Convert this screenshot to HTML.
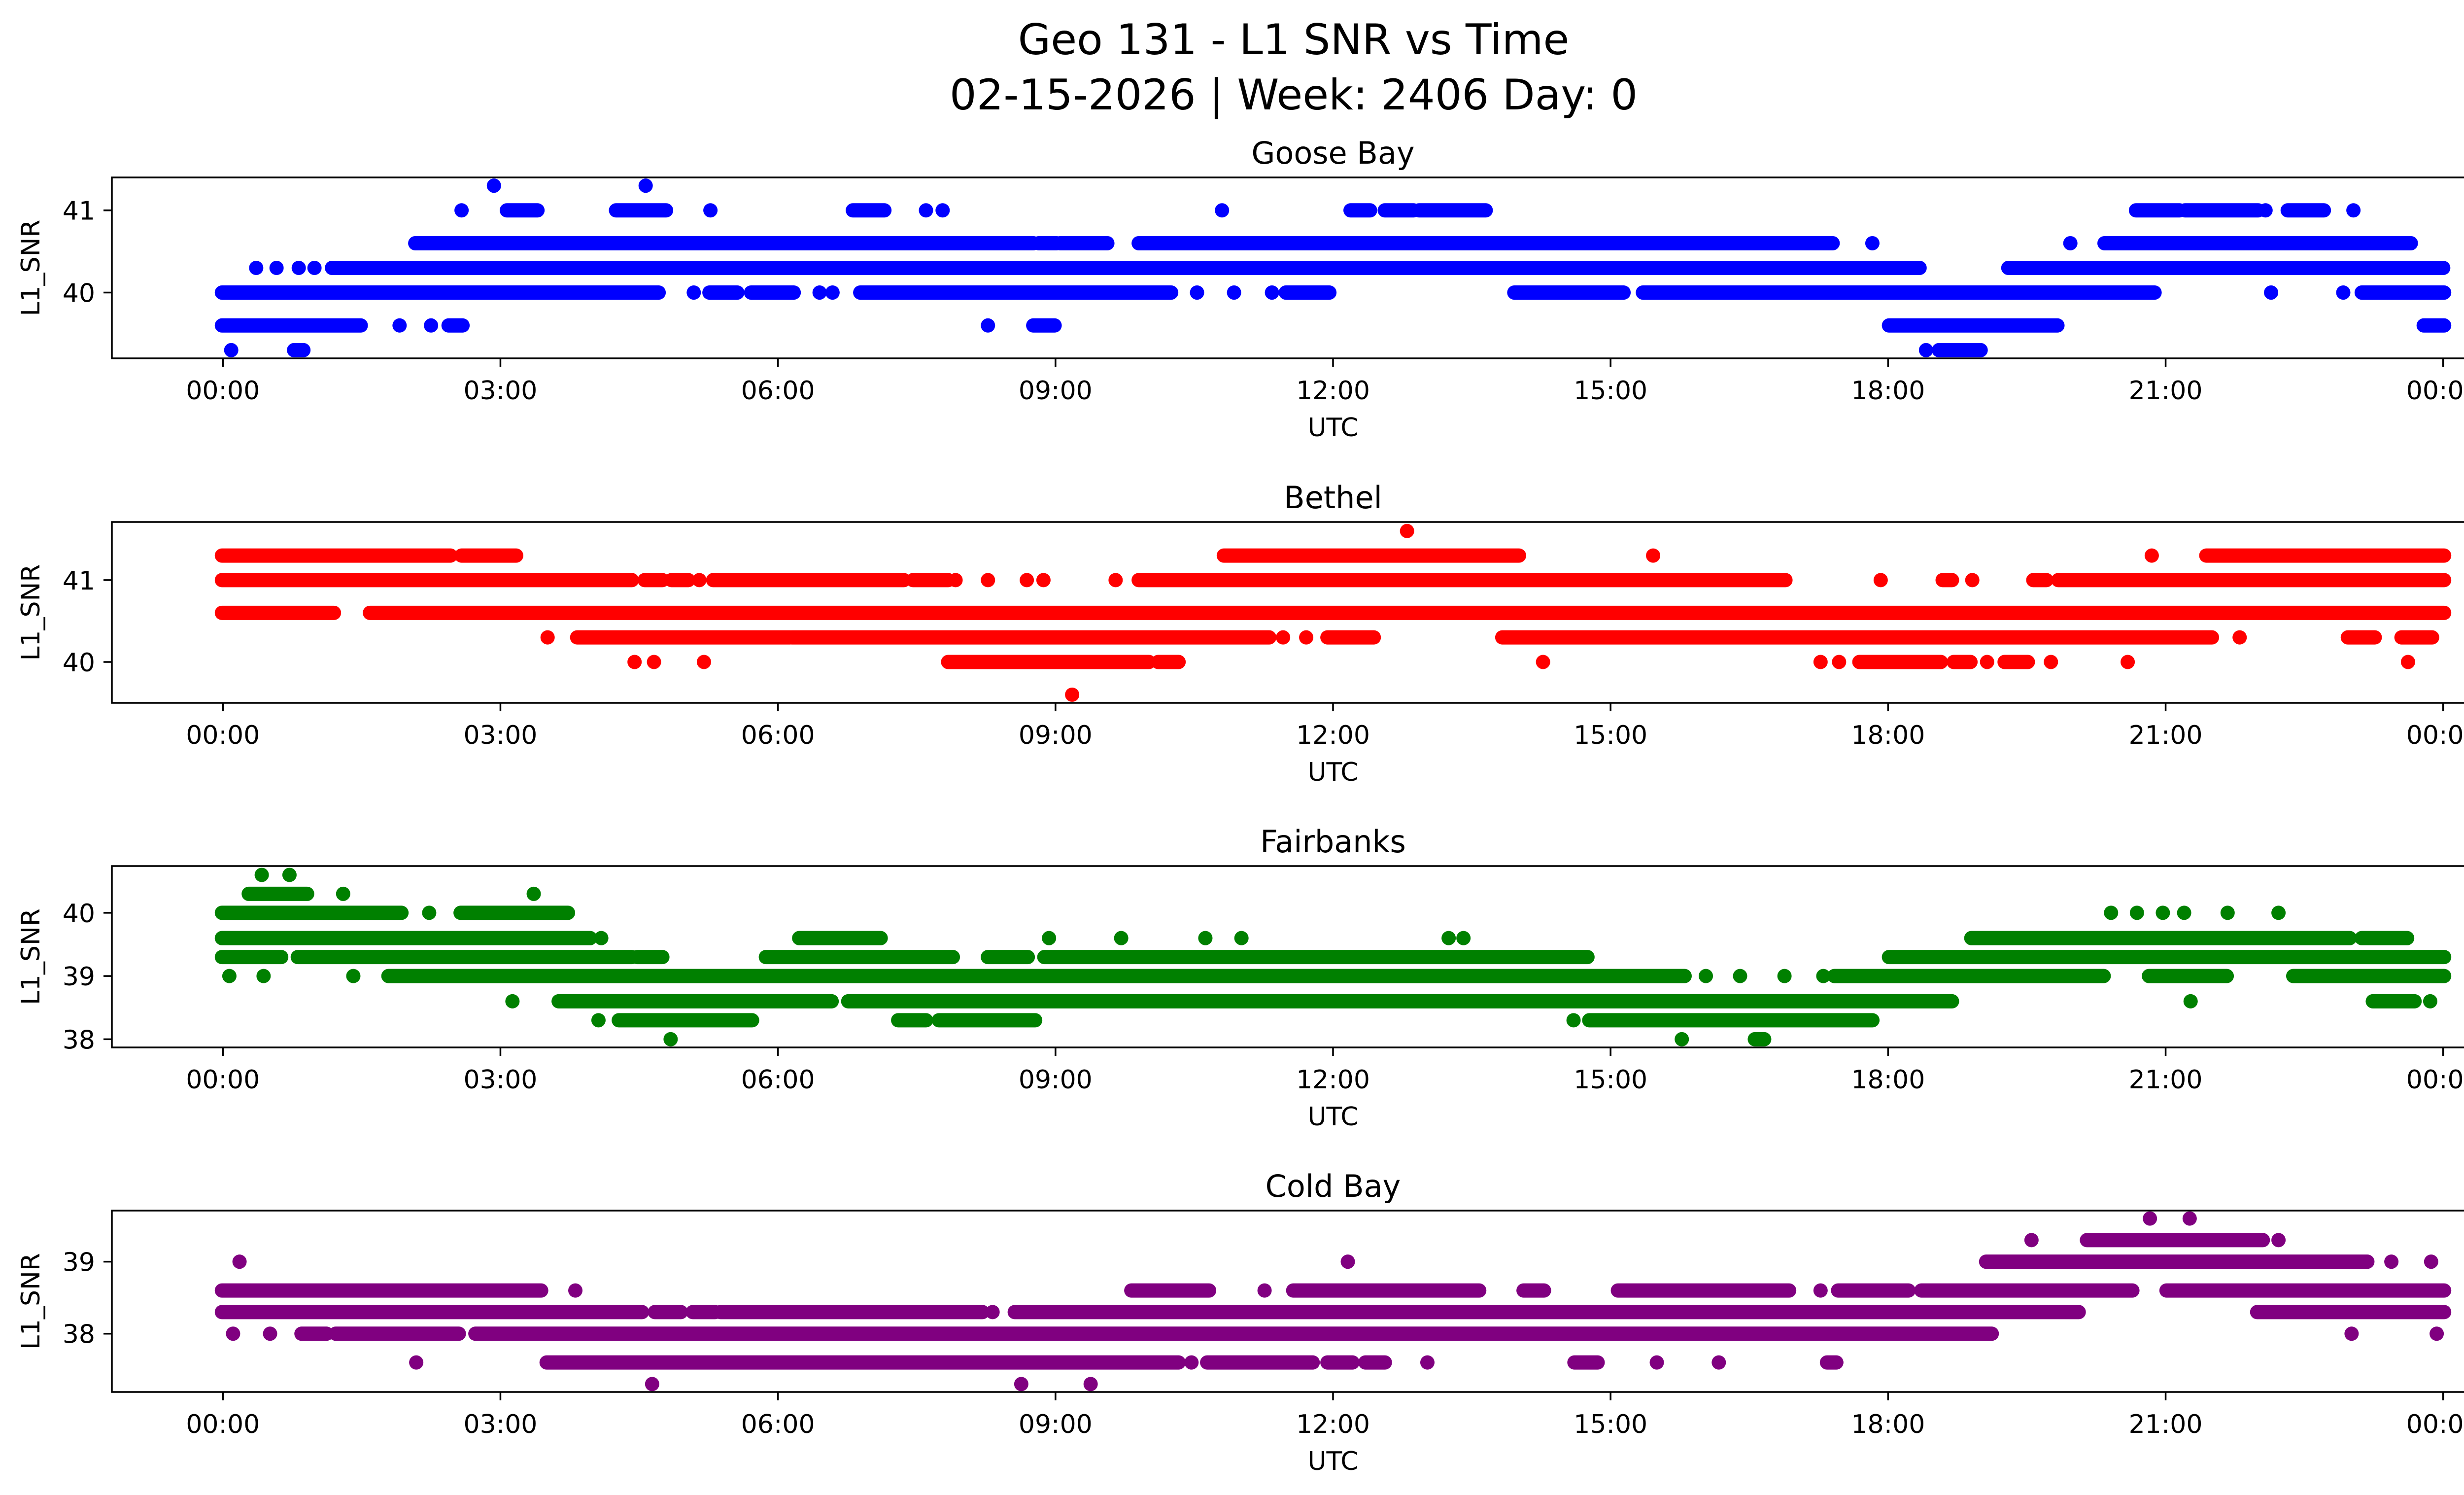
<!DOCTYPE html>
<html><head><meta charset="utf-8"><title>Geo 131 - L1 SNR vs Time</title>
<style>
html,body{margin:0;padding:0;background:#fff;overflow:hidden;}
svg{display:block;font-family:"DejaVu Sans","Liberation Sans",sans-serif;}
</style></head>
<body>
<svg id="chart" width="5225" height="3033" viewBox="0 0 5225 3033" xmlns="http://www.w3.org/2000/svg">
<rect width="5225" height="3033" fill="#fff"/>
<text x="2625" y="110" font-size="86" text-anchor="middle" fill="#000">Geo 131 - L1 SNR vs Time</text>
<text x="2625" y="222" font-size="86" text-anchor="middle" fill="#000">02-15-2026 | Week: 2406 Day: 0</text>
</svg>
<script>
// ---- data: [snr level, start hour, end hour] ----
const xTickHours = [0,3,6,9,12,15,18,21,24];
const xTickLabels = ["00:00","03:00","06:00","09:00","12:00","15:00","18:00","21:00","00:00"];
const stationNames = ["Goose Bay","Bethel","Fairbanks","Cold Bay"];
const stationColors = ["#0000ff","#ff0000","#008000","#800080"];
const gooseTicks = [40,41];
const bethelTicks = [40,41];
const fairbanksTicks = [38,39,40];
const coldbayTicks = [38,39];
const gooseYlim = [39.2,41.4];
const bethelYlim = [39.5,41.71];
const fairbanksYlim = [37.87,40.74];
const coldbayYlim = [37.19,39.71];
const gooseSegs = [
[41.3,2.93,2.93],[41.3,4.57,4.57],
[41,2.58,2.58],[41,3.08,3.39],[41,4.26,4.78],[41,5.27,5.27],[41,6.82,7.14],[41,7.6,7.6],[41,7.78,7.78],[41,10.8,10.8],[41,12.2,12.39],[41,12.57,12.86],[41,12.94,13.64],[41,20.69,21.14],[41,21.22,21.99],[41,22.08,22.08],[41,22.33,22.7],[41,23.03,23.03],
[40.6,2.09,8.57],[40.6,8.6,8.75],[40.6,8.83,9.0],[40.6,9.06,9.55],[40.6,9.91,17.39],[40.6,17.83,17.83],[40.6,19.97,19.97],[40.6,20.35,23.64],
[40.3,0.36,0.36],[40.3,0.58,0.58],[40.3,0.82,0.82],[40.3,0.99,0.99],[40.3,1.19,18.33],[40.3,19.31,23.99],
[40,0,4.7],[40,5.09,5.09],[40,5.27,5.55],[40,5.72,6.16],[40,6.45,6.45],[40,6.59,6.59],[40,6.9,10.24],[40,10.53,10.53],[40,10.93,10.93],[40,11.34,11.34],[40,11.5,11.95],[40,13.97,15.13],[40,15.36,20.87],[40,22.14,22.14],[40,22.92,22.92],[40,23.13,24],
[39.6,0,1.48],[39.6,1.91,1.91],[39.6,2.25,2.25],[39.6,2.45,2.58],[39.6,8.27,8.27],[39.6,8.77,8.98],[39.6,18.02,19.82],[39.6,23.8,24],
[39.3,0.09,0.09],[39.3,0.78,0.86],[39.3,18.41,18.41],[39.3,18.56,18.99]
];
const bethelSegs = [
[41.6,12.8,12.8],
[41.3,0,2.45],[41.3,2.59,3.16],[41.3,10.83,14.0],[41.3,15.46,15.46],[41.3,20.85,20.85],[41.3,21.45,24],
[41,0,4.41],[41,4.57,4.74],[41,4.86,5.02],[41,5.15,5.15],[41,5.31,7.35],[41,7.47,7.83],[41,7.92,7.92],[41,8.27,8.27],[41,8.69,8.69],[41,8.87,8.87],[41,9.65,9.65],[41,9.91,16.88],[41,17.92,17.92],[41,18.6,18.68],[41,18.91,18.91],[41,19.58,19.7],[41,19.85,24],
[40.6,0,1.19],[40.6,1.6,24],
[40.3,3.51,3.51],[40.3,3.84,6.12],[40.3,6.16,11.3],[40.3,11.46,11.46],[40.3,11.71,11.71],[40.3,11.95,12.43],[40.3,13.84,21.49],[40.3,21.8,21.8],[40.3,22.98,23.25],[40.3,23.56,23.87],
[40,4.45,4.45],[40,4.66,4.66],[40,5.2,5.2],[40,7.85,10.0],[40,10.12,10.32],[40,14.27,14.27],[40,17.27,17.27],[40,17.47,17.47],[40,17.7,18.56],[40,18.72,18.88],[40,19.07,19.07],[40,19.27,19.5],[40,19.76,19.76],[40,20.59,20.59],[40,23.62,23.62],
[39.6,9.18,9.18]
];
const fairbanksSegs = [
[40.6,0.42,0.42],[40.6,0.72,0.72],
[40.3,0.29,0.9],[40.3,1.3,1.3],[40.3,3.36,3.36],
[40,0,1.92],[40,2.23,2.23],[40,2.58,3.72],[40,20.41,20.41],[40,20.69,20.69],[40,20.97,20.97],[40,21.2,21.2],[40,21.67,21.67],[40,22.22,22.22],
[39.6,0,3.96],[39.6,4.09,4.09],[39.6,6.24,7.1],[39.6,8.93,8.93],[39.6,9.71,9.71],[39.6,10.62,10.62],[39.6,11.01,11.01],[39.6,13.25,13.25],[39.6,13.41,13.41],[39.6,18.91,22.98],[39.6,23.13,23.6],
[39.3,0,0.62],[39.3,0.82,4.41],[39.3,4.49,4.74],[39.3,5.88,7.88],[39.3,8.28,8.69],[39.3,8.89,14.74],[39.3,18.02,24],
[39,0.07,0.07],[39,0.44,0.44],[39,1.41,1.41],[39,1.8,15.79],[39,16.03,16.03],[39,16.4,16.4],[39,16.88,16.88],[39,17.3,17.3],[39,17.43,20.32],[39,20.83,21.65],[39,22.39,24],
[38.6,3.13,3.13],[38.6,3.64,6.57],[38.6,6.77,18.68],[38.6,21.27,21.27],[38.6,23.25,23.68],[38.6,23.86,23.86],
[38.3,4.06,4.06],[38.3,4.29,5.71],[38.3,7.31,7.59],[38.3,7.75,8.77],[38.3,14.6,14.6],[38.3,14.78,17.82],
[38,4.84,4.84],[38,15.77,15.77],[38,16.57,16.65]
];
const coldbaySegs = [
[39.6,20.83,20.83],[39.6,21.26,21.26],
[39.3,19.55,19.55],[39.3,20.16,22.04],[39.3,22.22,22.22],
[39,0.18,0.18],[39,12.16,12.16],[39,19.07,23.17],[39,23.44,23.44],[39,23.87,23.87],
[38.6,0,3.43],[38.6,3.81,3.81],[38.6,9.83,10.65],[38.6,11.26,11.26],[38.6,11.58,13.57],[38.6,14.07,14.27],[38.6,15.09,16.92],[38.6,17.27,17.27],[38.6,17.47,18.21],[38.6,18.37,20.63],[38.6,21.02,24],
[38.3,0,4.52],[38.3,4.68,4.94],[38.3,5.09,5.31],[38.3,5.39,8.2],[38.3,8.32,8.32],[38.3,8.57,20.05],[38.3,22.0,24],
[38,0.11,0.11],[38,0.51,0.51],[38,0.86,1.11],[38,1.23,2.54],[38,2.74,19.11],[38,23.01,23.01],[38,23.93,23.93],
[37.6,2.09,2.09],[37.6,3.51,10.32],[37.6,10.47,10.47],[37.6,10.65,11.77],[37.6,11.95,12.2],[37.6,12.36,12.55],[37.6,13.02,13.02],[37.6,14.62,14.85],[37.6,15.5,15.5],[37.6,16.17,16.17],[37.6,17.35,17.43],
[37.3,4.64,4.64],[37.3,8.63,8.63],[37.3,9.38,9.38]
];

const NS = "http://www.w3.org/2000/svg";
const svg = document.getElementById("chart");
const L = 227, R = 5183;
const tops = [360,1059,1757,2456];
const bottoms = [727,1426,2125,2824];
const allSegs = [gooseSegs,bethelSegs,fairbanksSegs,coldbaySegs];
const allTicks = [gooseTicks,bethelTicks,fairbanksTicks,coldbayTicks];
const allYlim = [gooseYlim,bethelYlim,fairbanksYlim,coldbayYlim];
const slugs = ["goose-bay","bethel","fairbanks","cold-bay"];
const xMin = -1.2, xMax = 25.2;
function xScale(h){ return L + (h - xMin) / (xMax - xMin) * (R - L); }
function mk(tag, attrs, parent){
  const e = document.createElementNS(NS, tag);
  for (const k in attrs) e.setAttribute(k, attrs[k]);
  (parent || svg).appendChild(e);
  return e;
}
for (let p = 0; p < 4; p++) {
  const top = tops[p], bot = bottoms[p];
  const yl = allYlim[p];
  const yScale = v => bot - (v - yl[0]) / (yl[1] - yl[0]) * (bot - top);
  const g = mk("g", {});
  
  
  const pts = mk("g", {fill: stationColors[p]}, g);
  
  
  allSegs[p].forEach(s => {
    const y = yScale(s[0]);
    let x1 = xScale(s[1]), x2 = xScale(s[2]);
    if (s[2] > s[1]) { x1 -= 2; x2 += 2; }
    const w = Math.max(29, x2 - x1 + 29);
    const cx = (x1 + x2) / 2;
    const r = mk("rect", {x: cx - w/2, y: y - 14.5, width: w, height: 29, rx: 14.5, ry: 14.5}, pts);
    
    
  });
  const fr = mk("rect", {x: L, y: top, width: R - L, height: bot - top, fill: "none", stroke: "#000", "stroke-width": 3.5}, g);
  
  
  xTickHours.forEach((h, i) => {
    const x = xScale(h);
    const t = mk("line", {x1: x, y1: bot, x2: x, y2: bot + 17, stroke: "#000", "stroke-width": 3.5}, g);
    
    
    const lb = mk("text", {x: x, y: bot + 83, "font-size": 52, "text-anchor": "middle", fill: "#000"}, g);
    lb.textContent = xTickLabels[i];
    
    
  });
  allTicks[p].forEach(v => {
    const y = yScale(v);
    const t = mk("line", {x1: L, y1: y, x2: L - 17, y2: y, stroke: "#000", "stroke-width": 3.5}, g);
    
    
    const lb = mk("text", {x: L - 34, y: y + 19, "font-size": 52, "text-anchor": "end", fill: "#000"}, g);
    lb.textContent = String(v);
    
    
  });
  const xt = mk("text", {x: (L + R) / 2, y: bot + 158, "font-size": 52, "text-anchor": "middle", fill: "#000"}, g);
  xt.textContent = "UTC";
  
  
  const cy = (top + bot) / 2;
  const yt = mk("text", {x: 0, y: 0, "font-size": 52, "text-anchor": "middle", fill: "#000", transform: "translate(80," + cy + ") rotate(-90)"}, g);
  yt.textContent = "L1_SNR";
  
  
  const tt = mk("text", {x: (L + R) / 2, y: top - 28, "font-size": 62, "text-anchor": "middle", fill: "#000"}, g);
  tt.textContent = stationNames[p];
  
  
}
</script>
</body></html>
